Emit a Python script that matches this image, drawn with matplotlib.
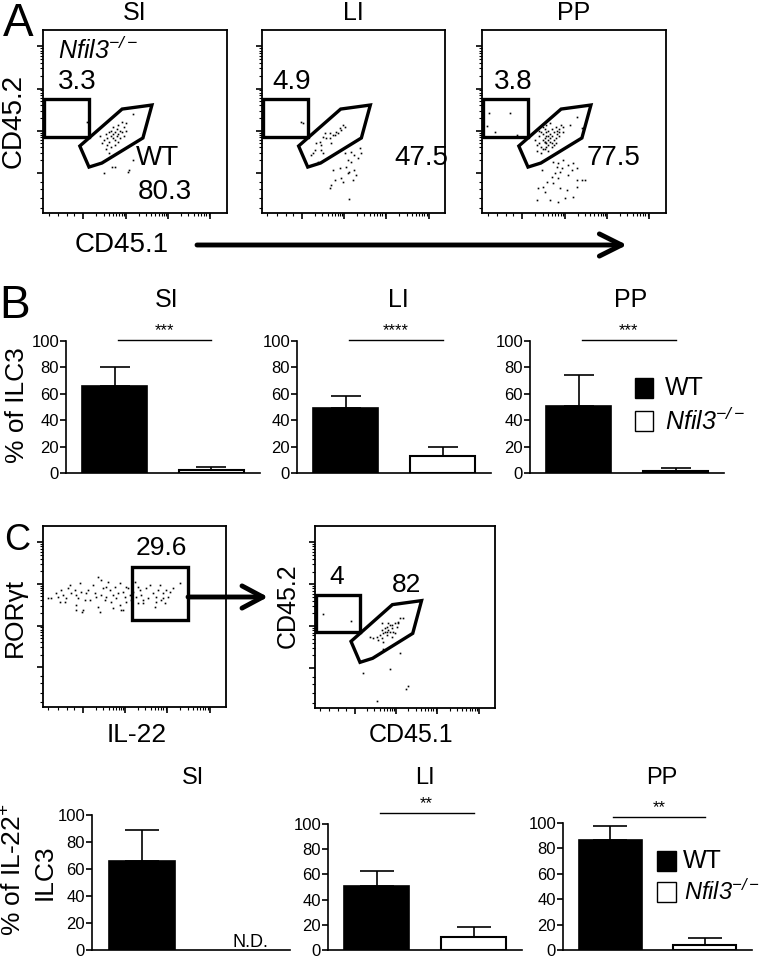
import matplotlib
matplotlib.use("Agg")
import matplotlib.pyplot as plt
from matplotlib.patches import Rectangle, Polygon
import numpy as np

plt.rcParams["font.family"] = ["Liberation Sans", "DejaVu Sans"]
plt.rcParams["mathtext.fontset"] = "custom"
plt.rcParams["mathtext.rm"] = "Liberation Sans:italic"
plt.rcParams["mathtext.it"] = "Liberation Sans:italic"
plt.rcParams["mathtext.bf"] = "Liberation Sans:bold"

W, H = 760, 958

# ---- data ----
tissues = ["SI", "LI", "PP"]
ko_label = r"$Nfil3^{-/-}$"

# panel A gate frequencies
a_ko_freq = ["3.3", "4.9", "3.8"]
a_wt_freq = ["80.3", "47.5", "77.5"]

# panel B: % of ILC3 (mean, SEM)
ilc3_wt = [66, 49, 51]
ilc3_wt_err = [14, 9, 23]
ilc3_ko = [2, 13, 1.5]
ilc3_ko_err = [2.5, 7, 2.5]
ilc3_sig = ["***", "****", "***"]

# panel C: % of IL-22+ ILC3 (SI knockout not detected)
il22_wt = [66, 50.5, 86.5]
il22_wt_err = [23, 12.5, 11.5]
il22_ko = [None, 10.5, 4]
il22_ko_err = [None, 7.5, 5.5]
il22_sig = [None, "**", "**"]

c_il22_freq = "29.6"
c_ko_freq = "4"
c_wt_freq = "82"

# gates (0-100 display scale)
ko_gate = (0.5, 41.5, 24.5, 20.8)
wt_gate_x = [20, 25, 32, 54.3, 59.2, 43]
wt_gate_y = [36.6, 25.1, 27.3, 41, 59, 56.8]
il22_gate = (48.6, 48, 30.6, 29.3)

# flow events (0-100 display scale)
si_x = [33, 34, 35, 36, 36, 37, 37, 38, 38, 39, 39, 40, 40, 41, 41, 42, 42, 43, 44, 44,
        45, 35, 37, 39, 32, 34, 36, 41, 43, 45, 31, 38, 23.7, 49, 49, 47, 33, 37.3, 39, 46, 5.5]
si_y = [40, 43, 41, 44, 39, 42, 45, 41, 43, 44, 40, 42, 46, 43, 39, 45, 41, 44, 47, 42,
        45, 37, 36, 37, 38, 35, 33, 48, 50, 49, 42, 47, 49.9, 54, 29, 23.5, 22, 25.3, 25.3, 22.6, 41.7]

li_x = [21.5, 22.4,
        44.2, 45.1, 42.4, 40.6, 41.5, 38.8, 37.0, 34.2, 33.3, 35.2, 31.5, 29.7, 32.4, 28.8,
        27.9, 32.4, 33.3, 37.9, 37.0, 39.7, 43.3, 27.0, 30.6,
        45.1, 48.7, 50.5, 53.3, 54.2, 52.4, 46.9, 48.7, 38.8, 42.4, 46.0, 47.8, 50.5, 51.4,
        49.6, 43.3, 39.7, 37.9, 37.0, 44.2, 46.9, 47.8]
li_y = [50, 49,
        48.1, 47.2, 46.3, 44.5, 43.5, 42.6, 43.5, 43.5, 41.7, 40.8, 39, 38, 37.2, 34.4,
        32.6, 34.4, 32.6, 38, 40.8, 42.6, 45.4, 31.7, 28.1,
        32.6, 33.5, 31.7, 35.4, 32.6, 29.9, 29, 28.1, 23.5, 24.4, 25.3, 22.6, 23.5, 20.8,
        18, 19, 18, 15.3, 13.5, 17.1, 21.7, 7.5]

pp_x = [29, 30, 31, 31, 32, 32, 33, 33, 33, 34, 34, 34, 35, 35, 35, 35, 36, 36, 36, 37,
        37, 37, 38, 38, 38, 39, 39, 40, 40, 41, 41, 42, 42, 43, 44, 30, 32, 34, 36, 38,
        40, 33, 35, 37, 31, 39, 36, 34, 42, 44,
        51.5, 54.1, 47.8,
        3.8, 15.2, 2.9, 7.1, 18.8,
        38.8, 41.5, 44.2, 46.9, 49.6, 51.4, 48.7, 42.4, 39.7, 37.9, 41.5, 46.9, 51.4, 54.2,
        56.0, 35.2, 33.3, 34.2, 42.4, 46.0, 51.4, 37.0, 41.5, 45.1, 49.6, 30.6, 32.4, 40.6,
        43.3, 38.8, 29.7]
pp_y = [40, 37, 42, 38, 44, 36, 40, 43, 35, 39, 41, 46, 38, 42, 36, 44, 40, 37, 45, 41,
        39, 43, 38, 46, 42, 40, 44, 41, 47, 43, 45, 44, 46, 48, 47, 34, 33, 35, 34, 36,
        38, 47, 48, 49, 45, 37, 42, 39, 42, 44,
        52.6, 46.3, 48.1,
        54.5, 54.8, 47.5, 44.4, 42.6,
        28.1, 27.2, 29.0, 26.2, 27.2, 24.4, 23.5, 22.6, 21.7, 19.9, 19.0, 20.8, 18.0, 18.0,
        18.0, 17.1, 14.4, 11.7, 13.5, 12.6, 14.4, 7.1, 6.2, 8.0, 8.9, 13.5, 23.5, 25.3,
        24.4, 16.2, 7.1]

il22_x = [2.7, 4.6, 7.3, 8.2, 9.1, 10.0, 10.9, 11.8, 12.7, 13.7, 14.6, 15.5, 17.3, 18.2,
          18.2, 19.1, 20.0, 20.9, 21.8, 22.8, 23.7, 24.6, 25.5, 27.3, 28.2, 29.1, 30.0,
          30.0, 30.9, 31.9, 32.8, 33.7, 34.6, 35.5, 36.4, 37.3, 38.2, 39.1, 40.0, 41.0,
          41.9, 42.8, 43.7, 44.6, 45.5, 46.4, 47.3, 48.2, 49.1, 50.1, 51.0, 51.9, 52.8,
          53.7, 54.6, 56.4, 57.3, 58.2, 60.1, 61.0, 61.9, 62.8, 63.7, 64.6, 65.5, 66.4,
          67.3, 68.3, 69.2, 71.0, 74.6, 18.2, 21.5, 38.2, 43.7, 31.9, 34.6, 41.9, 45.5,
          54.6, 51.9, 61.9, 65.5]
rorgt_y = [60.1, 60.1, 62.8, 61.0, 58.2, 64.7, 61.9, 58.2, 60.1, 65.6, 67.4, 62.8, 64.7,
           61.9, 56.4, 60.1, 68.3, 63.7, 53.6, 59.1, 62.8, 64.7, 59.1, 67.4, 62.8, 61.0,
           72.0, 55.5, 52.7, 61.9, 65.6, 59.1, 61.0, 69.3, 64.7, 58.2, 61.9, 66.5, 60.1,
           62.8, 56.4, 53.6, 63.7, 61.0, 58.2, 65.6, 61.9, 59.1, 63.7, 69.3, 61.0, 57.3,
           64.7, 61.9, 59.1, 65.6, 60.1, 67.4, 62.8, 55.5, 61.0, 64.7, 67.4, 59.1, 62.8,
           57.3, 64.7, 61.0, 63.7, 65.6, 68.3, 53.6, 52.7, 54.5, 53.6, 70.2, 66.5, 68.3,
           66.5, 57.3, 66.5, 58.2, 60.1]

c_x = [4.6, 19.8,
       37.0, 39.8, 41.6, 44.4, 46.3, 47.2, 49.0, 42.6, 40.7, 38.9, 37.9, 36.1, 34.2, 32.4,
       30.5, 37.0, 39.8, 43.5, 45.3, 42.6, 37.9, 46.3, 38.9, 41.6, 35.2, 44.4, 40.7, 37.0,
       39.8, 42.6,
       47.2, 41.6, 26.8, 51.4, 50.3, 34.2, 37.9]
c_y = [51.6, 47.8,
       46.5, 44.7, 45.6, 46.5, 47.4, 49.2, 49.2, 43.8, 42.8, 41.9, 41.0, 40.1, 39.2, 38.3,
       39.2, 38.3, 40.1, 41.9, 44.7, 39.2, 36.4, 46.5, 43.8, 41.9, 37.4, 41.0, 46.5, 42.8,
       41.9, 45.6,
       30.0, 21.2, 19.4, 12.1, 10.3, 3.9, 32.2]

fig = plt.figure(figsize=(W / 100, H / 100), dpi=100)


def px_axes(l, t, r, b):
    return fig.add_axes([l / W, 1 - b / H, (r - l) / W, (b - t) / H])


def flow_panel(ax, xs, ys):
    ax.plot(xs, ys, ls="none", marker="s", ms=1.2, mew=0, color="k")
    ax.set_xlim(0, 100)
    ax.set_ylim(0, 100)
    maj = [22, 45, 68, 91]
    minor = [3, 8, 13, 17]
    for a, b in zip(maj[:-1], maj[1:]):
        minor += [a + (b - a) * np.log10(k) for k in range(2, 10)]
    ax.set_xticks(maj)
    ax.set_yticks(maj)
    ax.set_xticks(minor, minor=True)
    ax.set_yticks(minor, minor=True)
    ax.tick_params(which="major", length=4, width=1.2, direction="out",
                   labelleft=False, labelbottom=False)
    ax.tick_params(which="minor", length=2.5, width=0.8, direction="out")
    for s in ax.spines.values():
        s.set_linewidth(1.3)


def cd45_gates(ax):
    x, y, w, h = ko_gate
    ax.add_patch(Rectangle((x, y), w, h, fill=False, lw=2.4, ec="k", joinstyle="miter"))
    ax.add_patch(Polygon(np.column_stack([wt_gate_x, wt_gate_y]), closed=True,
                         fill=False, lw=2.4, ec="k", joinstyle="miter"))


def bar_panel(ax, wt, wt_err, ko, ko_err, sig, sig_y, capsize):
    ax.bar(0.75, wt, width=1.0, color="k", edgecolor="k", lw=1.2, zorder=2)
    ax.errorbar(0.75, wt, yerr=[[0], [wt_err]], fmt="none", ecolor="k",
                elinewidth=1.2, capsize=capsize, capthick=1.2, zorder=1, clip_on=False)
    if ko is not None:
        ax.bar(2.25, ko, width=1.0, color="white", edgecolor="k", lw=1.5, zorder=2)
        ax.errorbar(2.25, ko, yerr=[[0], [ko_err]], fmt="none", ecolor="k",
                    elinewidth=1.2, capsize=capsize, capthick=1.2, zorder=3, clip_on=False)
    else:
        ax.text(2.4, 2, "N.D.", ha="center", va="baseline", fontsize=13)
    ax.set_xlim(0, 3)
    ax.set_ylim(0, 100)
    ax.set_xticks([])
    ax.set_yticks(range(0, 101, 20))
    ax.tick_params(axis="y", direction="out", length=4, width=1.2, labelsize=12, pad=1)
    for s in ["top", "right"]:
        ax.spines[s].set_visible(False)
    for s in ["left", "bottom"]:
        ax.spines[s].set_linewidth(1.2)
    if sig:
        ax.plot([0.8, 2.25], [sig_y, sig_y], color="k", lw=1, clip_on=False)
        ax.annotate(sig, (1.52, sig_y), xytext=(0, 1), textcoords="offset points",
                    ha="center", va="bottom", fontsize=12, annotation_clip=False)


# ---- panel A ----
a_boxes = [(43, 30, 227, 213), (262, 30, 445, 213), (482, 30, 666, 213)]
a_data = [(si_x, si_y), (li_x, li_y), (pp_x, pp_y)]
for box, (xs, ys) in zip(a_boxes, a_data):
    ax = px_axes(*box)
    flow_panel(ax, xs, ys)
    cd45_gates(ax)

# ---- panel B ----
b_boxes = [(66, 341, 260, 473), (297, 341, 491, 473), (530, 341, 724, 473)]
for i, box in enumerate(b_boxes):
    ax = px_axes(*box)
    bar_panel(ax, ilc3_wt[i], ilc3_wt_err[i], ilc3_ko[i], ilc3_ko_err[i],
              ilc3_sig[i], 101, 11)

# ---- panel C flow ----
ax = px_axes(43, 526, 226, 707)
flow_panel(ax, il22_x, rorgt_y)
gx, gy, gw, gh = il22_gate
ax.add_patch(Rectangle((gx, gy), gw, gh, fill=False, lw=2.4, ec="k", joinstyle="miter"))

ax = px_axes(315, 526, 495, 708)
flow_panel(ax, c_x, c_y)
cd45_gates(ax)

# ---- panel C bars ----
c_boxes = [(92, 815, 290, 950), (328, 824, 522, 950), (563, 823, 752, 950)]
c_sig_y = [None, 109, 105]
for i, box in enumerate(c_boxes):
    ax = px_axes(*box)
    bar_panel(ax, il22_wt[i], il22_wt_err[i], il22_ko[i], il22_ko_err[i],
              il22_sig[i], c_sig_y[i], 12)

# ---- overlay for labels and arrows ----
ov = fig.add_axes([0, 0, 1, 1], zorder=10)
ov.set_xlim(0, W)
ov.set_ylim(H, 0)
ov.axis("off")


def t(x, y, s, size, **kw):
    kw.setdefault("ha", "center")
    kw.setdefault("va", "center")
    ov.text(x, y, s, fontsize=size, **kw)


t(18, 2, "A", 33, va="top")
t(15, 306, "B", 33)
t(17, 540, "C", 26)

for (l, tp, r, b), name in zip(a_boxes, tissues):
    t((l + r) / 2, 13, name, 18)
for (l, tp, r, b), name in zip(b_boxes, tissues):
    t((l + r) / 2 + 4, 300, name, 18)
for x, name in zip([193, 425, 662], tissues):
    t(x, 778, name, 17)

t(14, 121, "CD45.2", 20, rotation=90)
t(122, 245, "CD45.1", 20)
ov.annotate("", xy=(627, 245), xytext=(197, 245),
            arrowprops=dict(arrowstyle="->,head_length=1.6,head_width=0.8", lw=3.5,
                            color="k", shrinkA=0, shrinkB=0))

t(58, 50, ko_label, 18, ha="left")
for x, s in zip([77, 292, 513], a_ko_freq):
    t(x, 82, s, 20)
t(157, 158, "WT", 20)
t(165, 192, a_wt_freq[0], 20)
t(421, 158, a_wt_freq[1], 20)
t(614, 158, a_wt_freq[2], 20)

t(17, 405, "% of ILC3", 19, rotation=90)

# legend B
ov.add_patch(Rectangle((635, 378), 18, 20, fc="k", ec="k", lw=1))
ov.add_patch(Rectangle((635, 411), 18, 20, fc="white", ec="k", lw=1))
t(665, 388, "WT", 18, ha="left")
t(665, 421, ko_label, 18, ha="left")

# panel C labels
t(15, 617, "RORγt", 19, rotation=90)
t(137, 735, "IL-22", 19)
t(161, 548, c_il22_freq, 19)
ov.annotate("", xy=(268, 597), xytext=(188, 597),
            arrowprops=dict(arrowstyle="->,head_length=1.5,head_width=0.8", lw=3.5,
                            color="k", shrinkA=0, shrinkB=0))
t(288, 606, "CD45.2", 18, rotation=90)
t(411, 735, "CD45.1", 18)
t(337, 577, c_ko_freq, 19)
t(407, 585, c_wt_freq, 19)

t(14, 870, "% of IL-22$^{+}$", 19, rotation=90)
t(45, 872, "ILC3", 19, rotation=90)

# legend C
ov.add_patch(Rectangle((657, 851), 19, 20, fc="k", ec="k", lw=1))
ov.add_patch(Rectangle((657, 882), 19, 20, fc="white", ec="k", lw=1))
t(683, 861, "WT", 18, ha="left")
t(684, 892, ko_label, 17, ha="left")

fig.savefig("out.png", dpi=100)
